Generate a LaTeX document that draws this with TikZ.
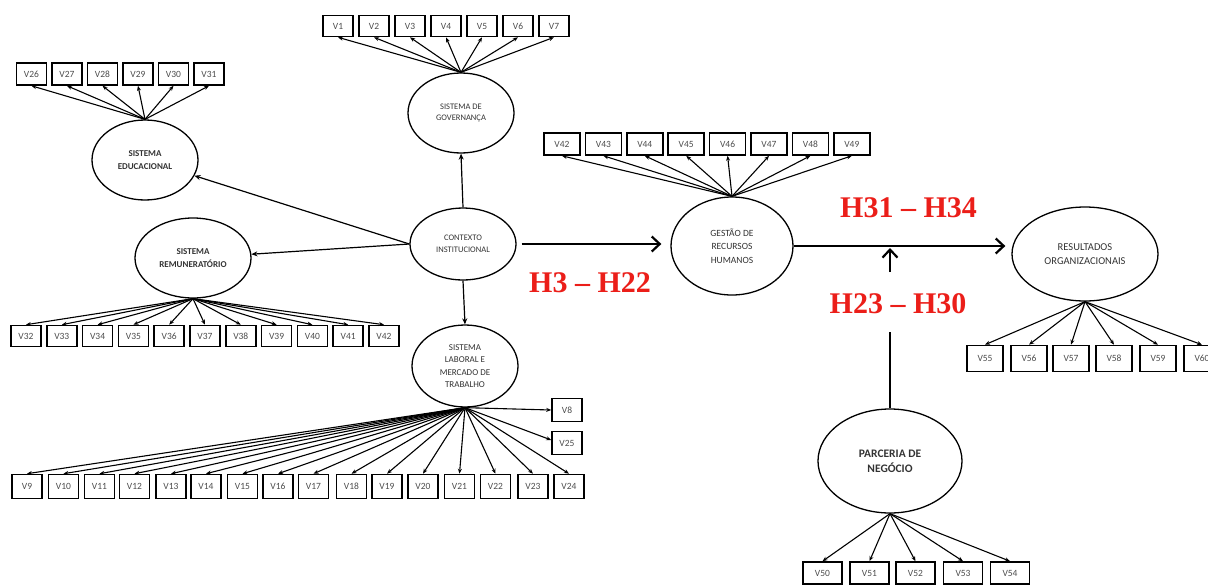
\documentclass[tikz,border=0pt]{standalone}
\usepackage{fontspec}
\setmainfont{Carlito}
\newfontfamily\hypfont{Liberation Serif}
\usetikzlibrary{shapes.geometric,arrows.meta}
\definecolor{hred}{RGB}{235,30,25}
\begin{document}
\begin{tikzpicture}[x=1pt,y=-1pt,
  lat/.style={ellipse,draw,line width=1.3pt,inner sep=0pt,align=center,text=black!80,
    font=\fontsize{8.5}{11.5}\selectfont},
  ind/.style={draw,line width=1.6pt,inner sep=0pt,minimum width=30pt,minimum height=21pt,
    font=\fontsize{9.5}{9.5}\selectfont,text=black!70},
  load/.style={line width=1.1pt,-{Stealth[length=5pt,width=4pt]}},
  rpath/.style={line width=1.2pt,-{Stealth[length=6pt,width=5pt]}},
  big/.style={line width=1.4pt,-{Straight Barb[length=8pt,width=15pt,line width=2.2pt]}},
  hyp/.style={font=\hypfont\bfseries\fontsize{30}{30}\selectfont,text=hred,inner sep=0pt}
]
\useasboundingbox (0,0) rectangle (1208,587);

% latent constructs
\node[lat,minimum width=106pt,minimum height=80pt] (gov) at (461,113) {SISTEMA DE\\GOVERNANÇA};
\node[lat,minimum width=106pt,minimum height=80pt,font=\fontsize{9}{12.5}\bfseries\selectfont] (edu) at (145,160) {SISTEMA\\EDUCACIONAL};
\node[lat,minimum width=106pt,minimum height=72pt] (ctx) at (463,244) {CONTEXTO\\INSTITUCIONAL};
\node[lat,minimum width=116pt,minimum height=80pt,font=\fontsize{9}{12.5}\bfseries\selectfont] (rem) at (193,258) {SISTEMA\\REMUNERATÓRIO};
\node[lat,minimum width=106pt,minimum height=82pt,font=\fontsize{9}{12.3}\selectfont] (lab) at (465,366) {SISTEMA\\LABORAL E\\MERCADO DE\\TRABALHO};
\node[lat,minimum width=122pt,minimum height=98pt,font=\fontsize{9.5}{13.5}\selectfont] (grh) at (732,246) {GESTÃO DE\\RECURSOS\\HUMANOS};
\node[lat,minimum width=146pt,minimum height=94pt,font=\fontsize{10.5}{14}\selectfont] (ro) at (1085,254) {RESULTADOS\\ORGANIZACIONAIS};
\node[lat,minimum width=144pt,minimum height=104pt,font=\fontsize{11.5}{15}\bfseries\selectfont] (pn) at (890,461) {PARCERIA DE\\NEGÓCIO};

% indicators of Sistema de Governança
\foreach \i/\x in {1/338,2/374,3/410,4/446,5/482,6/518,7/554}{
  \node[ind] (a\i) at (\x,26) {V\i};
  \draw[load] (gov.north) -- (a\i.south);
}
% indicators of Sistema Educacional
\foreach \i/\x in {26/31.5,27/67,28/102.5,29/138,30/173.5,31/209}{
  \node[ind,minimum height=22pt] (b\i) at (\x,74) {V\i};
  \draw[load] (edu.north) -- (b\i.south);
}
% indicators of Sistema Remuneratório
\foreach \i/\x in {32/26,33/61.8,34/97.6,35/133.4,36/169.2,37/205,38/240.8,39/276.6,40/312.4,41/348.2,42/384}{
  \node[ind] (c\i) at (\x,336) {V\i};
  \draw[load] (rem.south) -- (c\i.north);
}
% indicators of Sistema Laboral e Mercado de Trabalho
\foreach \i/\x in {9/27,10/63.5,11/99.5,12/134.5,13/171,14/206,15/242.5,16/278,17/313.5,18/351.5,19/387,20/423,21/459.5,22/495.5,23/533,24/569}{
  \node[ind,minimum height=24pt] (d\i) at (\x,486.5) {V\i};
  \draw[load] (lab.south) -- (d\i.north);
}
\node[ind,minimum height=23pt] (d8) at (567,410) {V8};
\node[ind,minimum height=23pt] (d25) at (567,443) {V25};
\draw[load] (lab.south) -- (d8.west);
\draw[load] (lab.south) -- ([yshift=3pt]d25.west);
% indicators of Gestão de Recursos Humanos
\foreach \i/\x in {42/562,43/603.4,44/644.8,45/686.2,46/727.6,47/769,48/810.4,49/851.8}{
  \node[ind,minimum width=36pt,minimum height=22pt] (e\i) at (\x,144) {V\i};
  \draw[load] (grh.north) -- (e\i.south);
}
% indicators of Resultados Organizacionais
\foreach \i/\x in {55/985,56/1029,57/1071,58/1114,59/1158,60/1202}{
  \node[ind,minimum width=36pt,minimum height=26pt] (f\i) at (\x,358.5) {V\i};
  \draw[load] (ro.south) -- (f\i.north);
}
% indicators of Parceria de Negócio
\foreach \i/\x in {50/822.5,51/869.5,52/915.5,53/963,54/1010}{
  \node[ind,minimum width=39pt,minimum height=22pt] (g\i) at (\x,573) {V\i};
  \draw[load] (pn.south) -- (g\i.north);
}

% structural paths
\draw[rpath] (ctx.north) -- (gov.south);
\draw[rpath] (ctx.west) -- (edu);
\draw[rpath] (ctx.west) -- (rem);
\draw[rpath] (ctx.south) -- (lab.north);
\draw[big,shorten <=5pt,shorten >=9pt] (ctx.east) -- (ctx.east -| grh.west);
\draw[big,shorten >=6pt] (grh.east) -- (grh.east -| ro.west);

% moderating path of Parceria de Negócio
\coordinate (jn) at (890,248);
\coordinate (gapT) at (890,272);
\coordinate (gapB) at (890,332);
\draw[line width=1.4pt] (pn.north) -- (gapB);
\draw[big] (gapT) -- (jn);

% hypothesis labels
\node[hyp] (h1) at (590,283) {H3 – H22};
\node[hyp] (h2) at (908.5,208) {H31 – H34};
\node[hyp] (h3) at (898,304) {H23 – H30};
\end{tikzpicture}
\end{document}
